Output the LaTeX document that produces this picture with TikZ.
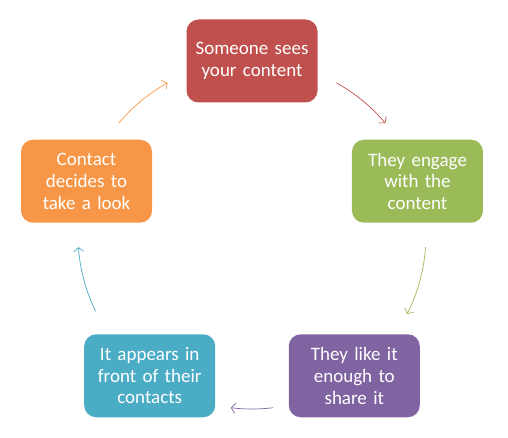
\documentclass[tikz,border=0pt]{standalone}
\usepackage{fontspec}
\setmainfont{Carlito}
\usetikzlibrary{arrows.meta, calc}

\definecolor{stepred}{HTML}{C0504D}
\definecolor{stepgreen}{HTML}{9BBB59}
\definecolor{steppurple}{HTML}{8064A2}
\definecolor{stepteal}{HTML}{4BACC6}
\definecolor{steporange}{HTML}{F79646}

\begin{document}
\begin{tikzpicture}[
  x=1pt, y=1pt,
  stage/.style={rounded corners=12pt, minimum width=131pt, minimum height=83pt,
                inner sep=2pt, text width=125pt, align=center, text=white,
                font=\fontsize{19}{21.7}\selectfont},
  arr/.style={-{Straight Barb[length=4pt, width=10pt]}, line width=0.7pt},
]
\useasboundingbox (0,0) rectangle (508,437);

% --- Centre of the cycle ---
\coordinate (c) at (252,202);

% --- Stages, clockwise from the top ---
\node[stage, fill=stepred]    (seen)    at ($(c)+(90:174)$)  {Someone sees\\your content};
\node[stage, fill=stepgreen]  (engage)  at ($(c)+(18:174)$)  {They engage\\with the\\content};
\node[stage, fill=steppurple] (share)   at ($(c)+(-54:174)$) {They like it\\enough to\\share it};
\node[stage, fill=stepteal]   (appear)  at ($(c)+(234:174)$) {It appears in\\front of their\\contacts};
\node[stage, fill=steporange] (look)    at ($(c)+(162:174)$) {Contact\\decides to\\take a look};

% --- Arcs between the stages ---
\draw[arr, stepred]    ($(c)+(61:174)$)  arc[start angle=61,  end angle=40,  radius=174];
\draw[arr, stepgreen]  ($(c)+(-4:174)$)  arc[start angle=-4,  end angle=-27, radius=174];
\draw[arr, steppurple] ($(c)+(-83:174)$) arc[start angle=-83, end angle=-97, radius=174];
\draw[arr, stepteal]   ($(c)+(206:174)$) arc[start angle=206, end angle=184, radius=174];
\draw[arr, steporange] ($(c)+(140:174)$) arc[start angle=140, end angle=119, radius=174];

\end{tikzpicture}
\end{document}
